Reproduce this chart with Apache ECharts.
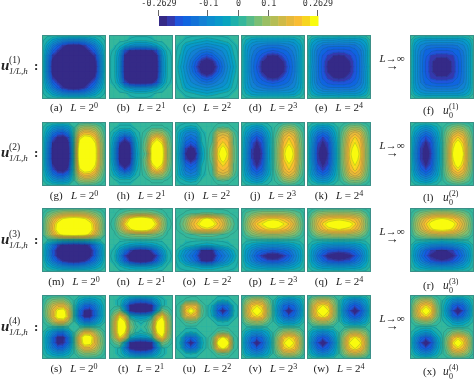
<!DOCTYPE html>
<html><head><meta charset="utf-8">
<style>html,body{margin:0;padding:0;background:#fff}#c{width:474px;height:379px}</style>
<script src="https://cdn.jsdelivr.net/npm/echarts@6/dist/echarts.min.js"></script>
</head><body><div id="c"></div>
<script>
// Field values, in hundredths, on interior grid nodes (the boundary is zero).
const a=[[-2,-6,-9,-12,-13,-13,-13,-12,-9,-6,-2],[-6,-13,-18,-23,-26,-27,-26,-23,-18,-13,-6],[-9,-18,-23,-29,-33,-34,-33,-29,-23,-18,-9],[-12,-23,-29,-34,-35,-35,-35,-34,-29,-23,-12],[-13,-26,-33,-35,-36,-36,-36,-35,-33,-26,-13],[-13,-27,-34,-35,-36,-36,-36,-35,-34,-27,-13],[-13,-26,-33,-35,-36,-36,-36,-35,-33,-26,-13],[-12,-23,-29,-34,-35,-35,-35,-34,-29,-23,-12],[-9,-18,-23,-29,-33,-34,-33,-29,-23,-18,-9],[-6,-13,-18,-23,-26,-27,-26,-23,-18,-13,-6],[-2,-6,-9,-12,-13,-13,-13,-12,-9,-6,-2]];
const b=[[0,0,0,-1,-2,-2,-2,-1,0,0,0],[0,-2,-5,-8,-10,-10,-10,-8,-5,-2,0],[-1,-7,-20,-26,-27,-27,-27,-26,-20,-7,-1],[-2,-9,-26,-30,-30,-30,-30,-30,-26,-9,-2],[-2,-10,-27,-30,-31,-31,-31,-30,-27,-10,-2],[-2,-10,-27,-30,-31,-32,-31,-30,-27,-10,-2],[-2,-10,-27,-30,-31,-31,-31,-30,-27,-10,-2],[-2,-9,-26,-30,-30,-30,-30,-30,-26,-9,-2],[-1,-7,-20,-26,-27,-27,-27,-26,-20,-7,-1],[0,-2,-5,-8,-10,-10,-10,-8,-5,-2,0],[0,0,0,-1,-2,-2,-2,-1,0,0,0]];
const c=[[0,-1,-2,-3,-4,-5,-4,-3,-2,-1,0],[-1,-5,-7,-8,-9,-10,-9,-8,-7,-5,-1],[-2,-7,-10,-12,-14,-15,-14,-12,-10,-7,-2],[-3,-8,-12,-15,-19,-21,-19,-15,-12,-8,-3],[-4,-9,-14,-19,-25,-28,-25,-19,-14,-9,-4],[-5,-10,-15,-21,-28,-32,-28,-21,-15,-10,-5],[-4,-9,-14,-19,-25,-28,-25,-19,-14,-9,-4],[-3,-8,-12,-15,-19,-21,-19,-15,-12,-8,-3],[-2,-7,-10,-12,-14,-15,-14,-12,-10,-7,-2],[-1,-5,-7,-8,-9,-10,-9,-8,-7,-5,-1],[0,-1,-2,-3,-4,-5,-4,-3,-2,-1,0]];
const d=[[-3,-6,-7,-7,-7,-7,-7,-7,-7,-6,-3],[-6,-10,-12,-13,-14,-14,-14,-13,-12,-10,-6],[-7,-12,-15,-17,-18,-19,-18,-17,-15,-12,-7],[-7,-13,-17,-20,-24,-25,-24,-20,-17,-13,-7],[-7,-14,-18,-24,-27,-28,-27,-24,-18,-14,-7],[-7,-14,-19,-25,-28,-29,-28,-25,-19,-14,-7],[-7,-14,-18,-24,-27,-28,-27,-24,-18,-14,-7],[-7,-13,-17,-20,-24,-25,-24,-20,-17,-13,-7],[-7,-12,-15,-17,-18,-19,-18,-17,-15,-12,-7],[-6,-10,-12,-13,-14,-14,-14,-13,-12,-10,-6],[-3,-6,-7,-7,-7,-7,-7,-7,-7,-6,-3]];
const e=[[-4,-7,-8,-8,-8,-9,-8,-8,-8,-7,-4],[-7,-11,-14,-15,-15,-15,-15,-15,-14,-11,-7],[-8,-14,-17,-19,-20,-20,-20,-19,-17,-14,-8],[-8,-15,-19,-22,-24,-25,-24,-22,-19,-15,-8],[-8,-15,-20,-24,-27,-28,-27,-24,-20,-15,-8],[-9,-15,-20,-25,-28,-29,-28,-25,-20,-15,-9],[-8,-15,-20,-24,-27,-28,-27,-24,-20,-15,-8],[-8,-15,-19,-22,-24,-25,-24,-22,-19,-15,-8],[-8,-14,-17,-19,-20,-20,-20,-19,-17,-14,-8],[-7,-11,-14,-15,-15,-15,-15,-15,-14,-11,-7],[-4,-7,-8,-8,-8,-9,-8,-8,-8,-7,-4]];
const f=[[-4,-7,-8,-8,-8,-8,-8,-8,-8,-7,-4],[-7,-11,-13,-14,-14,-14,-14,-14,-13,-11,-7],[-8,-13,-17,-18,-19,-19,-19,-18,-17,-13,-8],[-8,-14,-18,-22,-23,-23,-23,-22,-18,-14,-8],[-8,-14,-19,-23,-26,-27,-26,-23,-19,-14,-8],[-8,-14,-19,-23,-27,-28,-27,-23,-19,-14,-8],[-8,-14,-19,-23,-26,-27,-26,-23,-19,-14,-8],[-8,-14,-18,-22,-23,-23,-23,-22,-18,-14,-8],[-8,-13,-17,-18,-19,-19,-19,-18,-17,-13,-8],[-7,-11,-13,-14,-14,-14,-14,-14,-13,-11,-7],[-4,-7,-8,-8,-8,-8,-8,-8,-8,-7,-4]];
const g=[[-3,-7,-9,-9,-7,0,7,9,9,7,3],[-6,-14,-18,-19,-14,0,14,19,18,14,6],[-9,-20,-26,-27,-22,0,22,27,26,20,9],[-11,-24,-31,-32,-26,0,26,32,31,24,11],[-12,-26,-33,-35,-29,0,29,35,33,26,12],[-12,-26,-33,-35,-30,0,30,35,33,26,12],[-12,-26,-33,-35,-29,0,29,35,33,26,12],[-11,-24,-31,-32,-26,0,26,32,31,24,11],[-9,-20,-26,-27,-22,0,22,27,26,20,9],[-6,-14,-18,-19,-14,0,14,19,18,14,6],[-3,-7,-9,-9,-7,0,7,9,9,7,3]];
const h=[[0,-1,-1,-1,0,0,0,1,1,1,0],[-3,-8,-10,-8,-2,0,2,8,10,8,3],[-6,-16,-22,-17,-4,0,4,16,22,17,6],[-8,-23,-28,-23,-6,0,6,22,28,23,8],[-10,-26,-31,-26,-7,0,7,26,31,26,10],[-10,-26,-30,-26,-8,0,4,26,32,27,10],[-10,-26,-31,-26,-7,0,7,26,31,26,10],[-8,-23,-28,-23,-6,0,6,22,28,23,8],[-6,-16,-22,-17,-4,0,4,16,22,17,6],[-3,-8,-10,-8,-2,0,2,8,10,8,3],[0,-1,-1,-1,0,0,0,1,1,1,0]];
const i=[[-1,-3,-4,-3,0,0,0,2,3,2,0],[-5,-10,-12,-10,-1,0,1,12,14,12,3],[-6,-14,-16,-14,-2,0,2,17,19,17,5],[-7,-17,-20,-17,-3,0,3,19,22,19,5],[-8,-22,-27,-22,-5,0,5,21,26,21,6],[-9,-24,-28,-24,-6,0,6,22,30,22,6],[-8,-22,-27,-22,-5,0,5,21,26,21,6],[-7,-17,-20,-17,-3,0,3,19,22,19,5],[-6,-14,-16,-14,-2,0,2,17,19,17,5],[-5,-10,-12,-10,-1,0,1,12,14,12,3],[-1,-3,-4,-3,0,0,0,2,3,2,0]];
const j=[[-3,-6,-8,-6,-2,0,2,6,8,6,2],[-6,-12,-15,-12,-5,0,4,13,16,13,5],[-8,-17,-21,-17,-7,0,7,17,21,17,7],[-9,-20,-25,-20,-7,0,8,19,23,19,8],[-10,-21,-28,-21,-8,0,9,21,27,21,9],[-10,-22,-29,-22,-8,0,9,22,30,22,9],[-10,-21,-28,-21,-8,0,9,21,27,21,9],[-9,-20,-25,-20,-7,0,8,19,23,19,8],[-8,-17,-21,-17,-7,0,7,17,21,17,7],[-6,-12,-15,-12,-5,0,4,13,16,13,5],[-3,-6,-8,-6,-2,0,2,6,8,6,2]];
const k=[[-3,-7,-8,-7,-3,0,3,7,8,7,3],[-7,-13,-16,-13,-6,0,6,14,17,14,6],[-9,-18,-22,-18,-8,0,8,18,22,18,8],[-10,-21,-25,-21,-10,0,9,20,24,20,9],[-11,-22,-28,-22,-11,0,10,21,27,21,10],[-11,-23,-29,-23,-11,0,10,22,29,22,10],[-11,-22,-28,-22,-11,0,10,21,27,21,10],[-10,-21,-25,-21,-10,0,9,20,24,20,9],[-9,-18,-22,-18,-8,0,8,18,22,18,8],[-7,-13,-16,-13,-6,0,6,14,17,14,6],[-3,-7,-8,-7,-3,0,3,7,8,7,3]];
const l=[[-3,-6,-8,-6,-3,0,3,6,8,6,3],[-6,-12,-15,-12,-6,0,6,12,16,13,6],[-9,-17,-21,-17,-8,0,8,18,22,18,9],[-10,-20,-25,-20,-9,-1,9,21,27,21,10],[-11,-22,-27,-21,-10,-1,10,23,30,23,11],[-12,-22,-28,-22,-10,-1,10,24,31,24,11],[-11,-22,-27,-21,-10,-1,10,23,30,23,11],[-10,-20,-25,-20,-9,-1,9,21,27,21,10],[-9,-17,-21,-17,-8,0,8,18,22,18,9],[-6,-12,-15,-12,-6,0,6,12,16,13,6],[-3,-6,-8,-6,-3,0,3,6,8,6,3]];
const m=[[3,6,9,11,12,12,12,11,9,6,3],[7,14,20,24,26,27,26,24,20,14,7],[9,18,26,31,33,34,33,31,26,18,9],[9,19,27,32,33,33,33,32,27,19,9],[7,14,22,26,27,28,27,26,22,14,7],[0,0,0,0,0,0,0,0,0,0,0],[-7,-14,-22,-27,-29,-30,-29,-27,-22,-14,-7],[-9,-19,-27,-33,-35,-35,-35,-33,-27,-19,-9],[-9,-18,-26,-32,-34,-34,-34,-32,-26,-18,-9],[-7,-14,-19,-24,-26,-27,-26,-24,-19,-14,-7],[-3,-6,-9,-11,-12,-13,-12,-11,-9,-6,-3]];
const n=[[0,2,4,6,7,7,7,6,4,2,0],[1,8,16,24,28,30,28,24,16,8,1],[2,10,22,28,31,32,31,28,22,10,2],[1,8,16,23,28,29,28,23,16,8,1],[0,3,5,7,8,8,8,7,5,3,0],[0,0,0,0,0,0,0,0,0,0,0],[0,-2,-4,-6,-7,-8,-7,-6,-4,-2,0],[-1,-8,-15,-22,-27,-28,-27,-22,-15,-8,-1],[-2,-11,-22,-28,-31,-32,-31,-28,-22,-11,-2],[-1,-9,-17,-24,-28,-30,-28,-24,-17,-9,-1],[0,-2,-4,-6,-7,-7,-7,-6,-4,-2,0]];
const o=[[0,1,2,2,3,3,3,2,2,1,0],[2,6,13,18,22,26,22,18,13,6,2],[3,8,16,21,27,30,27,21,16,8,3],[2,6,13,18,20,22,20,18,13,6,2],[0,1,2,3,4,4,4,3,2,1,0],[0,0,0,0,0,0,0,0,0,0,0],[0,-1,-2,-3,-4,-5,-4,-3,-2,-1,0],[-3,-8,-12,-16,-25,-26,-25,-16,-12,-8,-3],[-5,-11,-15,-19,-29,-30,-29,-19,-15,-11,-5],[-3,-8,-12,-16,-24,-26,-24,-16,-12,-8,-3],[-1,-2,-3,-4,-6,-6,-6,-4,-3,-2,-1]];
const p=[[3,5,7,8,8,8,8,8,7,5,3],[5,12,16,19,21,22,21,19,16,12,5],[7,15,21,24,28,30,28,24,21,15,7],[6,12,17,20,22,23,22,20,17,12,6],[3,6,8,9,10,10,10,9,8,6,3],[0,0,0,0,0,0,0,0,0,0,0],[-3,-5,-7,-8,-9,-9,-9,-8,-7,-5,-3],[-6,-11,-15,-17,-18,-19,-18,-17,-15,-11,-6],[-7,-13,-19,-23,-28,-29,-28,-23,-19,-13,-7],[-6,-11,-15,-18,-20,-21,-20,-18,-15,-11,-6],[-3,-5,-7,-8,-9,-9,-9,-8,-7,-5,-3]];
const q=[[3,7,8,9,9,9,9,9,8,7,3],[7,14,18,20,21,22,21,20,18,14,7],[8,16,22,26,28,29,28,26,22,16,8],[7,14,18,22,23,24,23,22,18,14,7],[3,7,9,10,11,11,11,10,9,7,3],[0,0,0,0,0,0,0,0,0,0,0],[-3,-6,-8,-9,-10,-10,-10,-9,-8,-6,-3],[-6,-12,-16,-19,-20,-21,-20,-19,-16,-12,-6],[-7,-15,-21,-26,-29,-30,-29,-26,-21,-15,-7],[-6,-12,-16,-20,-21,-22,-21,-20,-16,-12,-6],[-3,-6,-8,-8,-9,-9,-9,-8,-8,-6,-3]];
const r=[[3,6,8,10,11,11,11,10,8,6,3],[6,12,17,21,23,24,23,21,17,12,6],[8,15,21,26,29,31,29,26,21,15,8],[7,13,18,23,25,26,25,23,18,13,7],[4,7,10,12,13,14,13,12,10,7,4],[0,0,0,-1,-1,-2,-1,-1,0,0,0],[-4,-7,-9,-11,-12,-13,-12,-11,-9,-7,-4],[-7,-13,-18,-22,-24,-25,-24,-22,-18,-13,-7],[-8,-15,-20,-25,-27,-28,-27,-25,-20,-15,-8],[-6,-12,-16,-20,-22,-23,-22,-20,-16,-12,-6],[-3,-6,-8,-10,-10,-11,-10,-10,-8,-6,-3]];
const s=[[3,6,7,7,3,0,-4,-7,-8,-6,-3],[6,13,17,17,10,0,-10,-17,-18,-13,-6],[8,17,26,28,16,0,-16,-24,-26,-17,-7],[7,17,28,30,18,0,-17,-26,-26,-17,-7],[3,10,17,17,8,0,-8,-15,-15,-10,-4],[0,0,0,0,0,0,0,0,0,0,0],[-4,-10,-15,-15,-8,0,8,17,17,10,4],[-7,-17,-26,-26,-16,0,17,30,28,17,7],[-7,-17,-26,-24,-16,0,16,28,26,17,8],[-6,-13,-18,-17,-10,0,10,17,17,13,6],[-3,-6,-8,-7,-4,0,4,7,7,6,3]];
const t=[[0,-1,-6,-12,-15,-16,-15,-12,-6,-1,0],[0,-1,-13,-26,-29,-30,-29,-26,-13,-1,0],[3,6,-6,-26,-30,-31,-30,-26,-6,6,3],[9,23,14,-3,-7,-8,-7,-3,14,23,9],[13,30,24,5,0,-1,0,5,24,30,13],[14,30,28,8,1,0,1,8,28,30,14],[13,30,24,5,0,-1,0,5,24,30,13],[9,23,14,-3,-7,-8,-7,-3,14,23,9],[3,6,-6,-26,-30,-31,-30,-26,-6,6,3],[0,-1,-13,-26,-29,-30,-29,-26,-13,-1,0],[0,-1,-6,-12,-15,-16,-15,-12,-6,-1,0]];
const u=[[0,1,2,2,0,0,0,-2,-3,-2,0],[2,16,18,16,3,0,-3,-14,-17,-14,-2],[3,20,28,20,4,0,-4,-18,-28,-18,-3],[2,15,18,15,3,0,-3,-14,-17,-14,-2],[0,3,4,3,0,0,0,-2,-3,-2,0],[0,0,0,0,0,0,0,0,0,0,0],[0,-2,-3,-2,0,0,0,3,4,3,0],[-2,-14,-17,-14,-3,0,3,18,26,18,2],[-3,-18,-28,-18,-4,0,4,26,30,26,3],[-2,-14,-17,-14,-3,0,3,18,26,18,2],[0,-2,-3,-2,0,0,0,3,4,3,0]];
const v=[[6,11,13,11,5,0,-5,-9,-11,-9,-5],[11,20,23,20,9,0,-8,-16,-19,-16,-9],[13,23,30,23,11,0,-10,-19,-30,-19,-11],[11,20,23,20,9,0,-8,-16,-19,-16,-9],[5,9,11,9,4,0,-4,-8,-9,-8,-4],[0,0,0,0,0,0,0,0,0,0,0],[-4,-8,-9,-8,-4,0,4,9,11,9,5],[-9,-16,-19,-16,-8,0,9,20,23,20,11],[-11,-19,-30,-19,-10,0,11,23,30,23,13],[-9,-16,-19,-16,-8,0,9,20,23,20,11],[-5,-9,-11,-9,-5,0,5,11,13,11,6]];
const w=[[7,12,14,12,6,0,-6,-10,-12,-10,-5],[12,21,24,21,10,0,-9,-17,-20,-17,-9],[14,24,31,24,12,0,-12,-21,-30,-21,-12],[12,21,24,21,10,0,-9,-17,-20,-17,-9],[6,10,12,10,5,0,-5,-9,-11,-9,-5],[0,0,0,0,0,0,0,0,0,0,0],[-5,-9,-11,-9,-5,0,5,10,12,10,6],[-9,-17,-20,-17,-9,0,10,21,24,21,12],[-12,-21,-30,-21,-12,0,12,24,31,24,14],[-9,-17,-20,-17,-9,0,10,21,24,21,12],[-5,-10,-12,-10,-6,0,6,12,14,12,7]];
const x=[[5,10,12,10,3,0,-4,-9,-11,-9,-4],[10,18,22,18,6,-1,-7,-17,-20,-17,-9],[12,22,30,22,8,-1,-9,-21,-30,-21,-11],[10,18,22,17,6,-1,-6,-17,-20,-16,-9],[3,6,8,6,2,0,-2,-6,-8,-6,-3],[0,-1,-1,-1,0,0,0,-1,-1,-1,0],[-3,-6,-8,-6,-2,0,2,6,8,6,3],[-9,-16,-20,-17,-6,-1,6,17,22,18,10],[-11,-21,-30,-21,-9,-1,8,22,30,22,12],[-9,-17,-20,-17,-7,-1,6,18,22,18,10],[-4,-9,-11,-9,-4,0,3,10,12,10,5]];

const panels=[a,b,c,d,e,f,g,h,i,j,k,l,m,n,o,p,q,r,s,t,u,v,w,x];
const letters=['a','b','c','d','e','f','g','h','i','j','k','l','m','n','o','p','q','r','s','t','u','v','w','x'];
const exponents=['0','1','2','3','4'];
const tickValues=[-0.2629,-0.1,0,0.1,0.2629];
const bandColors=['#352a87','#3439ad','#1f55dc','#1065e0','#1272d8','#1380d4','#0d8dd0','#0999ca','#08a4bf','#1eb0ab','#35b79b','#58bb88','#7bbf74','#9abf63','#b5bd55','#cfba47','#e6b93b','#f9bd33','#f7d51f','#f9fb0e'];

const colX=[42,109,175,241,307,410], rowY=[35,122,208,295], SIZE=64;
const RANGE=26.29, STEP=RANGE*2/bandColors.length;
const padded=m0=>{const z=new Array(m0[0].length+2).fill(0);return [z].concat(m0.map(row=>[0].concat(row,[0])),[z]);};

function clipPoly(poly,level,above){
  const out=[];
  for(let q=0;q<poly.length;q++){
    const P=poly[q],Q=poly[(q+1)%poly.length];
    const pi=above?P[2]>=level:P[2]<=level, qi=above?Q[2]>=level:Q[2]<=level;
    if(pi)out.push(P);
    if(pi!==qi){const tt=(level-P[2])/(Q[2]-P[2]);out.push([P[0]+tt*(Q[0]-P[0]),P[1]+tt*(Q[1]-P[1]),level]);}
  }
  return out;
}
function quad(api){return [[api.value(0),api.value(1),api.value(4)],[api.value(2),api.value(1),api.value(5)],[api.value(2),api.value(3),api.value(6)],[api.value(0),api.value(3),api.value(7)]];}
function renderFill(params,api){
  const q0=quad(api),kids=[];
  bandColors.forEach((col,idx)=>{
    let poly=q0;
    if(idx>0)poly=clipPoly(poly,-RANGE+idx*STEP,true);
    if(poly.length>2&&idx<bandColors.length-1)poly=clipPoly(poly,-RANGE+(idx+1)*STEP,false);
    if(poly.length>2)kids.push({type:'polygon',shape:{points:poly.map(P=>api.coord([P[0],P[1]]))},style:{fill:col,stroke:col,lineWidth:1.1}});
  });
  return {type:'group',children:kids};
}
const contourLevels=[-0.6,0.6];
for(let z=1;z<bandColors.length/2;z++){contourLevels.push(z*STEP,-z*STEP);}
function renderLines(params,api){
  const q0=quad(api),kids=[];
  contourLevels.forEach(L=>{
    const pts=[];
    for(let z=0;z<4;z++){
      const P=q0[z],Q=q0[(z+1)%4];
      if((P[2]-L)*(Q[2]-L)<0){const tt=(L-P[2])/(Q[2]-P[2]);pts.push(api.coord([P[0]+tt*(Q[0]-P[0]),P[1]+tt*(Q[1]-P[1])]));}
    }
    for(let z=0;z+1<pts.length;z+=2)kids.push({type:'line',shape:{x1:pts[z][0],y1:pts[z][1],x2:pts[z+1][0],y2:pts[z+1][1]},style:{stroke:'rgba(20,55,65,0.38)',lineWidth:0.5}});
  });
  return {type:'group',children:kids};
}

const grids=[],xAxes=[],yAxes=[],series=[],graphics=[];
const serif='"Liberation Serif","DejaVu Serif",serif';
const rich={n:{fontFamily:serif,fontSize:11,fill:'#222'},i:{fontFamily:serif,fontSize:11,fontStyle:'italic',fill:'#222'},s:{fontFamily:serif,fontSize:8,fill:'#222',padding:[0,0,5,0]}};
function addText(px,py,text,size,extra){graphics.push({type:'text',x:px,y:py,silent:true,z:50,style:Object.assign({text:text,fontFamily:serif,fontSize:size,fill:'#222',align:'left',verticalAlign:'middle'},extra||{})});}

panels.forEach((pm,idx)=>{
  const col=idx%6,row=Math.floor(idx/6),gi=grids.length;
  grids.push({left:colX[col],top:rowY[row],width:SIZE,height:SIZE});
  xAxes.push({type:'value',gridIndex:gi,min:0,max:1,show:false});
  yAxes.push({type:'value',gridIndex:gi,min:0,max:1,inverse:true,show:false});
  const vals=padded(pm),N=vals.length-1,cells=[];
  for(let yy=0;yy<N;yy++)for(let xx=0;xx<N;xx++)cells.push([xx/N,yy/N,(xx+1)/N,(yy+1)/N,vals[yy][xx],vals[yy][xx+1],vals[yy+1][xx+1],vals[yy+1][xx]]);
  series.push({type:'custom',xAxisIndex:gi,yAxisIndex:gi,data:cells,renderItem:renderFill,encode:{x:0,y:1},silent:true,animation:false,clip:true,z:2});
  series.push({type:'custom',xAxisIndex:gi,yAxisIndex:gi,data:cells,renderItem:renderLines,encode:{x:0,y:1},silent:true,animation:false,clip:true,z:3});
  graphics.push({type:'rect',silent:true,z:40,shape:{x:colX[col]+0.5,y:rowY[row]+0.5,width:SIZE-1,height:SIZE-1},style:{fill:'none',stroke:'#3b8f88',lineWidth:1}});
  const cx=colX[col]+SIZE/2;
  if(col<5){
    const capY=rowY[row]+[73,74,74,74][row];
    graphics.push({type:'text',silent:true,z:50,x:cx,y:capY,style:{text:'{n|('+letters[idx]+')}   {i|L} {n|= 2}{s|'+exponents[col]+'}',align:'center',verticalAlign:'middle',rich:rich,fontSize:11,fontFamily:serif}});
  }else{
    const capY=rowY[row]+[76,76,78,77][row];
    addText(colX[col]+13,capY,'('+letters[idx]+')',11);
    addText(colX[col]+33,capY,'u',11.5,{fontStyle:'italic'});
    addText(colX[col]+39,capY-4,'('+(row+1)+')',8);
    addText(colX[col]+39,capY+5,'0',8);
    const ay=rowY[row]+24;
    addText(392,ay,'L→∞',11,{align:'center',fontStyle:'italic'});
    addText(392,ay+8,'→',13,{align:'center'});
  }
  if(col===0){
    const ly=rowY[row]+[31,31,32,32][row];
    addText(1,ly,'u',15,{fontStyle:'italic',fontWeight:'bold'});
    addText(9,ly-6,'('+(row+1)+')',9.5);
    addText(9,ly+6,'1/L,h',9,{fontStyle:'italic'});
    addText(34,ly+1,':',13,{fontWeight:'bold'});
  }
});

// colour bar
const cbGrid=grids.length;
grids.push({left:159,top:16,width:159,height:10});
xAxes.push({type:'value',gridIndex:cbGrid,min:tickValues[0],max:tickValues[4],position:'top',splitLine:{show:false},axisLine:{show:false},
  axisTick:{show:false},
  axisLabel:{show:true,customValues:tickValues,formatter:val=>String(val),margin:8,fontFamily:'"DejaVu Sans Mono",monospace',fontSize:8.4,color:'#333',showMinLabel:true,showMaxLabel:true,hideOverlap:false}});
yAxes.push({type:'value',gridIndex:cbGrid,min:0,max:1,show:false});
const barWidth=(tickValues[4]-tickValues[0])/bandColors.length;
series.push({type:'custom',xAxisIndex:cbGrid,yAxisIndex:cbGrid,silent:true,animation:false,encode:{x:0,y:1},clip:false,
  data:bandColors.map((col,idx)=>[tickValues[0]+idx*barWidth,0,tickValues[0]+(idx+1)*barWidth,1]),
  renderItem:(params,api)=>{const A=api.coord([api.value(0),api.value(1)]),B=api.coord([api.value(2),api.value(3)]);
    return {type:'rect',shape:{x:A[0],y:B[1],width:B[0]-A[0]+0.5,height:A[1]-B[1]},style:{fill:bandColors[params.dataIndex]}};}});
series.push({type:'custom',xAxisIndex:cbGrid,yAxisIndex:cbGrid,silent:true,animation:false,encode:{x:0},clip:false,z:5,
  data:tickValues.map(val=>[val]),
  renderItem:(params,api)=>{const A=api.coord([api.value(0),1]);
    return {type:'line',shape:{x1:Math.round(A[0])-0.5,y1:A[1]-6,x2:Math.round(A[0])-0.5,y2:A[1]},style:{stroke:'#666',lineWidth:1}};}});

const chart=echarts.init(document.getElementById('c'),null,{renderer:'canvas',width:474,height:379});
chart.setOption({animation:false,backgroundColor:'#fff',grid:grids,xAxis:xAxes,yAxis:yAxes,series:series,graphic:{elements:graphics}});
</script></body></html>
